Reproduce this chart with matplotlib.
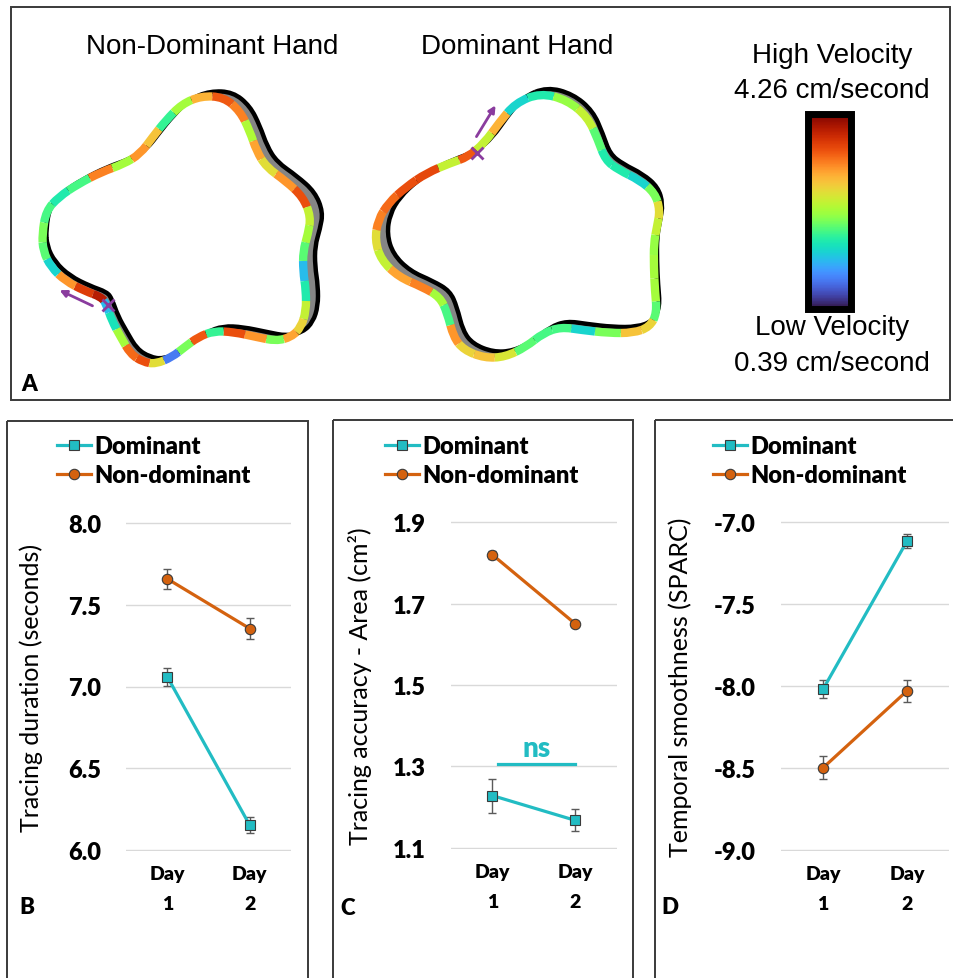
import numpy as np
import matplotlib.pyplot as plt
from matplotlib.path import Path
from matplotlib.patches import PathPatch, Rectangle, FancyArrowPatch
from matplotlib.collections import PatchCollection
from matplotlib import colors, cm

# ---- panel A: template outlines (image pixels) and velocity along the trace ----
nondom_template = [(46, 230), (50, 207), (63, 193), (83, 180), (107, 168), (130, 160), (147, 150),
                   (160, 133), (173, 117), (190, 100), (210, 92), (233, 93), (250, 107), (260, 127),
                   (267, 147), (277, 163), (297, 177), (315, 193), (323, 213), (320, 230), (315, 247),
                   (315, 267), (318, 287), (318, 307), (313, 323), (303, 333), (287, 337), (267, 333),
                   (243, 328), (223, 327), (207, 333), (193, 343), (180, 353), (163, 360), (150, 358),
                   (137, 350), (127, 333), (118, 317), (112, 300), (107, 293), (90, 287), (70, 277),
                   (55, 263), (47, 247)]
nondom_velocity = [2.13, 1.94, 1.74, 1.94, 3.29, 2.33, 3.18, 2.91, 1.86, 2.33, 3.02, 3.49, 3.29, 2.40,
                   3.10, 2.71, 3.18, 3.56, 2.52, 2.33, 2.02, 1.36, 1.74, 2.52, 2.79, 3.10, 2.13, 3.18,
                   3.56, 1.86, 3.49, 2.13, 0.97, 2.71, 3.56, 3.41, 2.33, 1.67, 1.36, 3.95, 3.68, 3.18,
                   1.55, 2.02]

dom_template = [(547, 88), (573, 95), (593, 112), (603, 135), (610, 155), (623, 165), (643, 175),
                (658, 188), (663, 205), (660, 222), (657, 238), (657, 262), (658, 285), (660, 308),
                (653, 322), (637, 328), (613, 328), (587, 325), (567, 322), (550, 328), (533, 342),
                (513, 352), (493, 353), (473, 345), (463, 332), (457, 308), (450, 292), (433, 282),
                (410, 272), (393, 255), (387, 235), (390, 215), (400, 198), (417, 182), (437, 168),
                (460, 158), (477, 152), (493, 138), (507, 118), (523, 98)]
dom_velocity = [1.74, 2.25, 2.52, 2.02, 1.74, 1.74, 1.55, 2.13, 2.71, 2.52, 2.25, 2.33, 2.33, 2.02,
                2.79, 2.91, 2.13, 1.55, 1.94, 1.94, 2.02, 2.63, 2.91, 2.79, 3.18, 1.94, 2.33, 3.29,
                3.10, 2.52, 2.71, 3.29, 3.41, 3.56, 3.60, 2.52, 3.49, 2.52, 3.02, 1.55]

vel_min, vel_max = 0.39, 4.26

# ---- panels B-D ----
days = [1, 2]
day_labels = ["Day\n1", "Day\n2"]

duration_dom = [7.06, 6.15]
duration_dom_err = [0.055, 0.05]
duration_nondom = [7.66, 7.355]
duration_nondom_err = [0.06, 0.065]

area_dom = [1.228, 1.167]
area_dom_err = [0.042, 0.027]
area_nondom = [1.82, 1.65]
area_nondom_err = [0.01, 0.006]

sparc_dom = [-8.02, -7.115]
sparc_dom_err = [0.054, 0.043]
sparc_nondom = [-8.50, -8.03]
sparc_nondom_err = [0.07, 0.065]

TEAL = "#22bcc3"
ORANGE = "#d4620f"
PURPLE = "#8a3c9e"
W, H = 954, 979

fig = plt.figure(figsize=(W / 100, H / 100), dpi=100)

# overlay axes in pixel coordinates for panel A and the frames
bg = fig.add_axes([0, 0, 1, 1])
bg.set_xlim(0, W)
bg.set_ylim(H, 0)
bg.axis("off")

frame_kw = dict(fill=False, ec="#3a3a3a", lw=1.4)
bg.add_patch(Rectangle((11, 8), 939, 393, **frame_kw))
bg.add_patch(Rectangle((7, 422), 301, 600, **frame_kw))
bg.add_patch(Rectangle((333, 421), 300, 600, **frame_kw))
bg.add_patch(Rectangle((655, 421), 320, 600, **frame_kw))

arial = "Liberation Sans"
lato = "Lato"
BOLD = "heavy"
bg.text(212, 47, "Non-Dominant Hand", fontsize=20, family=arial, ha="center", va="center")
bg.text(517, 47, "Dominant Hand", fontsize=20, family=arial, ha="center", va="center")
bg.text(832, 56, "High Velocity", fontsize=20, family=arial, ha="center", va="center")
bg.text(832, 91, "4.26 cm/second", fontsize=20, family=arial, ha="center", va="center")
bg.text(832, 328, "Low Velocity", fontsize=20, family=arial, ha="center", va="center")
bg.text(832, 364, "0.39 cm/second", fontsize=20, family=arial, ha="center", va="center")

for lbl, x, y in [("A", 29, 385), ("B", 27, 908), ("C", 348, 909), ("D", 670, 908)]:
    bg.text(x, y, lbl, fontsize=16, family=lato, weight=BOLD, ha="center", va="center")


def smooth_path(pts):
    pts = np.asarray(pts, dtype=float)
    mids = (pts + np.roll(pts, -1, axis=0)) / 2
    verts = [mids[-1]]
    codes = [Path.MOVETO]
    for i in range(len(pts)):
        verts += [pts[i], mids[i]]
        codes += [Path.CURVE3, Path.CURVE3]
    return Path(verts, codes)


cmap = plt.get_cmap("turbo")
norm = colors.Normalize(vel_min, vel_max)


def draw_shape(template, velocity, center, scale, shift):
    tpl = np.asarray(template, dtype=float)
    trace = (tpl - center) * scale + center + shift
    # gray area between template and trace
    gap = Path.make_compound_path(smooth_path(tpl), smooth_path(trace[::-1]))
    bg.add_patch(PathPatch(gap, fc="#858585", ec="none", zorder=1))
    bg.add_patch(PathPatch(smooth_path(tpl), fc="none", ec="black", lw=3.2, zorder=2))
    # velocity coloured trace
    mids = (trace + np.roll(trace, -1, axis=0)) / 2
    pieces = []
    for i in range(len(trace)):
        pieces.append(PathPatch(Path([mids[i - 1], trace[i], mids[i]],
                                     [Path.MOVETO, Path.CURVE3, Path.CURVE3])))
    pc = PatchCollection(pieces, facecolors="none", edgecolors=cmap(norm(velocity)),
                         linewidths=6, capstyle="butt", zorder=3)
    bg.add_collection(pc)


draw_shape(nondom_template, nondom_velocity, np.array([185, 225]), np.array([0.97, 1.0]), np.array([-8, 5]))
draw_shape(dom_template, dom_velocity, np.array([525, 220]), np.array([1.033, 1.0]), np.array([-7.5, 6]))

# start markers and direction arrows
bg.add_patch(FancyArrowPatch((95, 308), (57, 290), arrowstyle="-|>", mutation_scale=10,
                             color=PURPLE, lw=2, zorder=4))
bg.plot(108, 306, marker="x", ms=8, mew=2, color=PURPLE, zorder=5)
bg.add_patch(FancyArrowPatch((475, 140), (497, 104), arrowstyle="-|>", mutation_scale=10,
                             color=PURPLE, lw=2, zorder=4))
bg.plot(477, 154, marker="x", ms=8, mew=2, color=PURPLE, zorder=5)

# colour bar
cax = fig.add_axes([808 / W, 1 - 310 / H, 43 / W, 195 / H])
cb = fig.colorbar(cm.ScalarMappable(norm=norm, cmap=cmap), cax=cax)
cb.set_ticks([])
cb.outline.set_linewidth(5)


def panel(left_px, right_px, top_px, bottom_px, dom, dom_err, nondom, nondom_err,
          ylim, yticks, ylabel, label_x_px, legend_xy):
    ax = fig.add_axes([left_px / W, 1 - bottom_px / H, (right_px - left_px) / W,
                       (bottom_px - top_px) / H])
    for y, e, c, m, lab in [(dom, dom_err, TEAL, "s", "Dominant"),
                            (nondom, nondom_err, ORANGE, "o", "Non-dominant")]:
        ax.errorbar(days, y, yerr=e, fmt="none", ecolor="#5a5a5a", elinewidth=1, capsize=3,
                    capthick=1, zorder=2)
        ax.plot(days, y, color=c, lw=2.3, marker=m, ms=7.5, mfc=c, mec="#3a3a3a", mew=0.8,
                label=lab, zorder=3)
    pad = (ylim[1] - ylim[0]) * 0.004
    ax.set_ylim(ylim[0] - pad, ylim[1] + pad)
    ax.set_xlim(0.5, 2.5)
    ax.set_yticks(yticks)
    ax.set_yticklabels([f"{t:.1f}" for t in yticks], fontsize=17, family=lato, weight=BOLD)
    ax.set_xticks(days)
    ax.set_xticklabels(day_labels, fontsize=14, family=lato, weight=BOLD)
    for t in ax.get_xticklabels():
        t.set_linespacing(1.95)
    ax.tick_params(length=0, axis="y", pad=18)
    ax.tick_params(length=0, axis="x", pad=10)
    ax.grid(axis="y", color="#d9d9d9", lw=1)
    ax.set_axisbelow(True)
    for s in ax.spines.values():
        s.set_visible(False)
    ax.set_ylabel(ylabel, fontsize=18, family=lato)
    ax.yaxis.set_label_coords((label_x_px - left_px) / (right_px - left_px), 0.5)
    ax.legend(loc="upper left", bbox_to_anchor=(legend_xy[0] / W, 1 - legend_xy[1] / H),
              bbox_transform=fig.transFigure, frameon=False, borderpad=0, borderaxespad=0,
              handlelength=1.45, handletextpad=0.12, labelspacing=0.3,
              prop=dict(family=lato, weight=BOLD, size=17))
    return ax


panel(126, 291, 523, 852, duration_dom, duration_dom_err, duration_nondom, duration_nondom_err,
      (6.0, 8.0), [6.0, 6.5, 7.0, 7.5, 8.0], "Tracing duration (seconds)", 43, (57, 436))
axc = panel(451, 617, 522, 850, area_dom, area_dom_err, area_nondom, area_nondom_err,
            (1.1, 1.9), [1.1, 1.3, 1.5, 1.7, 1.9], "Tracing accuracy - Area (cm²)", 372, (385, 436))
panel(781, 949, 522, 852, sparc_dom, sparc_dom_err, sparc_nondom, sparc_nondom_err,
      (-9.0, -7.0), [-9.0, -8.5, -8.0, -7.5, -7.0], "Temporal smoothness (SPARC)", 692, (713, 436))

# not-significant marker between dominant days
axc.plot([1.07, 2.0], [1.305, 1.305], color=TEAL, lw=2.3)
axc.text(1.53, 1.345, "ns", color=TEAL, fontsize=20, family=lato, weight=BOLD,
         ha="center", va="center")

fig.savefig("out.png", dpi=100)
